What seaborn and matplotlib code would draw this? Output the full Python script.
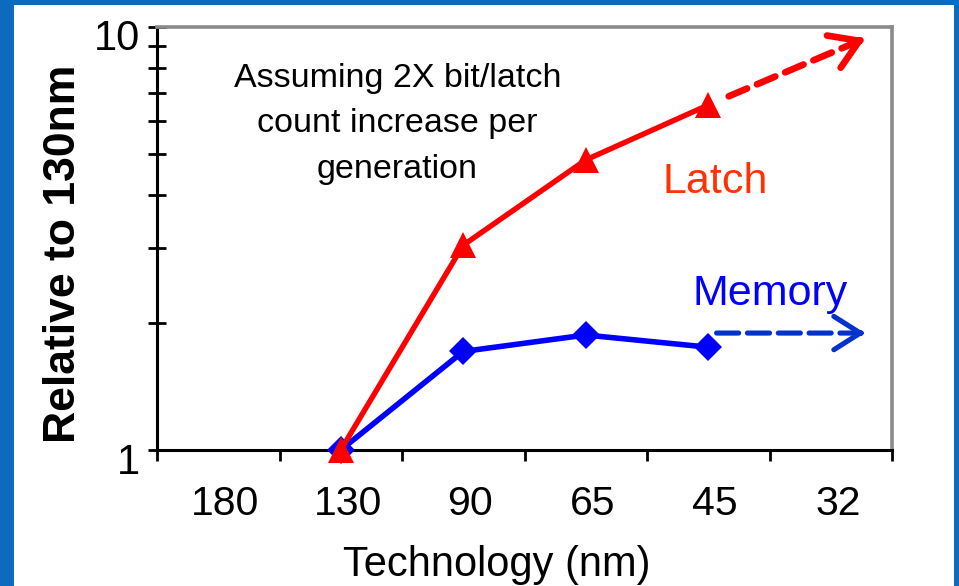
import numpy as np
import pandas as pd
import matplotlib
matplotlib.use("Agg")
import matplotlib.pyplot as plt
import matplotlib.ticker as mticker
import matplotlib.transforms as mtransforms
from matplotlib.patches import Rectangle
import seaborn as sns

# ---------------- data ----------------
technology = ["180", "130", "90", "65", "45", "32"]
latch_nodes = ["130", "90", "65", "45"]
latch_values = [1.0, 3.05, 4.85, 6.54]
memory_nodes = ["130", "90", "65", "45"]
memory_values = [1.0, 1.71, 1.87, 1.75]
# projected trend from 45nm toward 32nm (dashed arrows)
latch_projection = [6.54, 9.4]
memory_projection = [1.89, 1.89]
y_ticks = [1, 10]
y_tick_labels = ["1", "10"]
y_minor_ticks = [2, 3, 4, 5, 6, 7, 8, 9]
note_text = "Assuming 2X bit/latch\ncount increase per\ngeneration"
latch_label = "Latch"
memory_label = "Memory"
x_title = "Technology (nm)"
y_title = "Relative to 130nm"

# ---------------- style ----------------
sns.set_style("white")
plt.rcParams["font.family"] = ["Liberation Sans", "DejaVu Sans"]

RED = "#FF0000"
BLUE = "#0000FF"
BLUE_DASH = "#0033CC"
LATCH_TXT = "#FF3300"

fig = plt.figure(figsize=(9.59, 5.86), dpi=100)
fig.patch.set_facecolor("#0C6BBE")
fig.add_artist(Rectangle((14 / 959, 0), 940 / 959, 581 / 586,
                         transform=fig.transFigure, facecolor="white",
                         edgecolor="none", zorder=-1))
ax = fig.add_axes([157 / 959, 1 - 450 / 586, 735 / 959, 423 / 586])
ax.set_facecolor("white")

mem_df = pd.DataFrame({"tech": memory_nodes, "value": memory_values})
latch_df = pd.DataFrame({"tech": latch_nodes, "value": latch_values})


def draw_series(df, color, marker, ms, lw, z):
    n_before = len(ax.lines)
    sns.pointplot(data=df, x="tech", y="value", order=technology,
                  color=color, marker=marker, errorbar=None, ax=ax)
    for line in ax.lines[n_before:]:
        line.set_linewidth(lw)
        line.set_markersize(ms)
        line.set_markeredgewidth(0)
        line.set_marker(marker)
        line.set_color(color)
        line.set_clip_on(False)
        line.set_zorder(z)


draw_series(mem_df, BLUE, "D", 14.5, 4.0, 5)
draw_series(latch_df, RED, "^", 18.5, 3.9, 6)

ax.set_yscale("log")
ax.set_ylim(1, 10)
ax.set_xlim(-0.5, len(technology) - 0.5)


def projection_arrow(values, color, lw, dash, shrink_start, ms):
    x0 = technology.index("45")
    x1 = technology.index("32") + 0.28
    v0, v1 = values
    ax.annotate("", xy=(x1, v1), xytext=(x0, v0),
                arrowprops=dict(arrowstyle="-", color=color, lw=lw,
                                linestyle=(0, dash), shrinkA=shrink_start,
                                shrinkB=7), zorder=4)
    t = 0.96
    xb = x0 + (x1 - x0) * t
    yb = 10 ** (np.log10(v0) + (np.log10(v1) - np.log10(v0)) * t)
    ax.annotate("", xy=(x1, v1), xytext=(xb, yb),
                arrowprops=dict(arrowstyle="->,head_length=0.95,head_width=0.6",
                                color=color, lw=lw, shrinkA=0, shrinkB=0,
                                mutation_scale=ms, joinstyle="round",
                                capstyle="round"), zorder=4)


projection_arrow(latch_projection, RED, 4.8, (3.0, 1.6), 16, 21)
projection_arrow(memory_projection, BLUE_DASH, 3.7, (4.3, 1.7), 6, 20)

# ---------------- axes / ticks ----------------
ax.yaxis.set_major_locator(mticker.FixedLocator(y_ticks))
ax.yaxis.set_major_formatter(mticker.FixedFormatter(y_tick_labels))
ax.yaxis.set_minor_locator(mticker.FixedLocator(y_minor_ticks))
ax.yaxis.set_minor_formatter(mticker.NullFormatter())
ax.tick_params(axis="y", which="both", left=True, direction="inout",
               length=13, width=2, color="black", labelsize=30, pad=6,
               labelcolor="black")

ax.set_xticks(range(len(technology)))
ax.set_xticklabels(technology)
ax.xaxis.set_minor_locator(mticker.FixedLocator(np.arange(-0.5, len(technology), 1.0)))
ax.tick_params(axis="x", which="major", bottom=True, length=0, labelsize=29.5,
               pad=25, labelcolor="black")
ax.tick_params(axis="x", which="minor", bottom=True, direction="out",
               length=8, width=2, color="black")

for s in ["left", "bottom"]:
    ax.spines[s].set_color("black")
    ax.spines[s].set_linewidth(2.2)
for s in ["top", "right"]:
    ax.spines[s].set_color("#8A8A8A")
    ax.spines[s].set_linewidth(2.6)
for s in ax.spines.values():
    s.set_visible(True)

ax.set_xlabel(x_title, fontsize=30, color="black")
ax.xaxis.set_label_coords(0.4626, -0.2246)
ax.set_ylabel(y_title, fontsize=32, fontweight="bold", color="black")
ax.yaxis.set_label_coords(-0.0993, 0.4645)

ax.text(0.3272, 0.915, note_text, transform=ax.transAxes, ha="center",
        va="top", fontsize=24.5, linespacing=1.6, color="black")
ax.text(0.6884, 0.6076, latch_label, transform=ax.transAxes, ha="left",
        va="baseline", fontsize=31, color=LATCH_TXT)
ax.text(0.7279, 0.3428, memory_label, transform=ax.transAxes, ha="left",
        va="baseline", fontsize=31, color=BLUE)

# small label offsets as in the original
y_off = mtransforms.ScaledTranslation(0, -0.08, fig.dpi_scale_trans)
for lab in ax.get_yticklabels():
    lab.set_transform(lab.get_transform() + y_off)
x_off = mtransforms.ScaledTranslation(0.07, 0, fig.dpi_scale_trans)
for lab in ax.get_xticklabels():
    lab.set_transform(lab.get_transform() + x_off)

legend = ax.get_legend()
if legend is not None:
    legend.remove()

fig.savefig("out.png", dpi=100, facecolor=fig.get_facecolor())
